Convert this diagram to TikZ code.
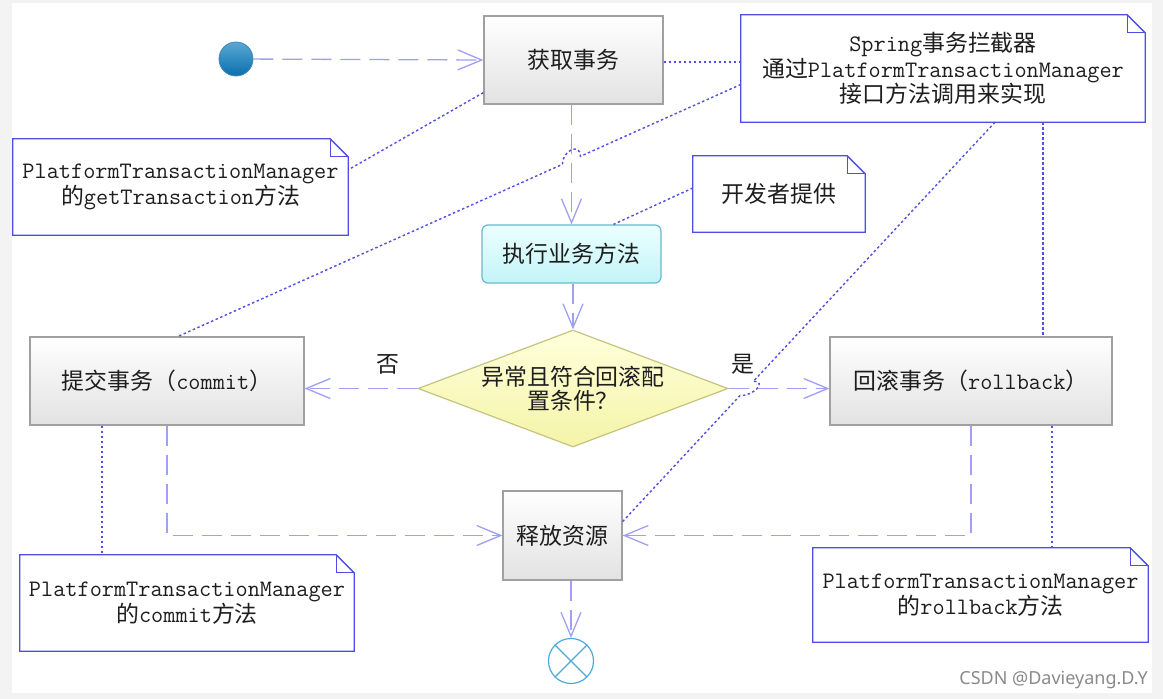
\documentclass[tikz,border=0pt]{standalone}
\usepackage{fontspec}
\newfontfamily\cjkf{Noto Sans CJK SC}[Scale=0.97]
\newfontfamily\wmf{Noto Sans}
\usetikzlibrary{arrows.meta,calc,shapes.geometric}
\newcommand\zh[1]{{\cjkf #1}}
\definecolor{bgc}{HTML}{F3F3F3}
\definecolor{txtc}{HTML}{1E1E1E}
\definecolor{boxc}{HTML}{A0A0A0}
\definecolor{boxf}{HTML}{E2E2E2}
\definecolor{notec}{HTML}{4E4EE2}
\definecolor{flowc}{HTML}{A0A0F2}
\definecolor{linkc}{HTML}{5050E4}
\definecolor{execc}{HTML}{6AB8CC}
\definecolor{execfa}{HTML}{ECFFFF}
\definecolor{execfb}{HTML}{C2F4F8}
\definecolor{diac}{HTML}{C4C47E}
\definecolor{diafa}{HTML}{FFFFDC}
\definecolor{diafb}{HTML}{F4F4A8}
\definecolor{startl}{HTML}{5AA8D4}
\definecolor{startd}{HTML}{0A6EAC}
\definecolor{startb}{HTML}{3A8AB8}
\definecolor{endc}{HTML}{4AAAD8}
\definecolor{wmc}{HTML}{8A8A8A}
\newcommand\dogear[1]{%
  \draw[noteline] (#1.north west) -- ($(#1.north east)+(-18,0)$) -- ($(#1.north east)+(0,18)$) -- (#1.south east) -- (#1.south west) -- cycle;
  \draw[noteline] ($(#1.north east)+(-18,0)$) -- ($(#1.north east)+(-18,18)$) -- ($(#1.north east)+(0,18)$);}
\begin{document}
\begin{tikzpicture}[x=1pt,y=-1pt,
  txt/.style={font=\fontsize{23.6}{23.5}\selectfont\ttfamily, text=txtc, align=center, inner sep=0pt},
  box/.style={txt, rectangle, draw=boxc, line width=1.2pt, top color=white, bottom color=boxf},
  notenode/.style={txt, rectangle},
  noteline/.style={draw=notec, line width=1.3pt, line join=miter},
  dia/.style={diamond, draw=diac, line width=1.2pt, top color=diafa, bottom color=diafb, minimum width=310pt, minimum height=117pt, inner sep=0pt},
  flow/.style={draw=flowc, line width=1.3pt, dash pattern=on 20pt off 9pt, -{Straight Barb[length=24pt,width=20pt]}},
  link/.style={draw=linkc, line width=1.4pt, dash pattern=on 2.5pt off 2.5pt},
]
\fill[bgc] (0,0) rectangle (1163,699);
\fill[white] (12,3) rectangle (1152,693);

% nodes
\node[circle, minimum size=34pt, inner sep=0pt, draw=startb, line width=0.8pt, top color=startl, bottom color=startd] (start) at (236,59) {};
\node[box, minimum width=179pt, minimum height=88pt] (get) at (573.5,60) {\zh{获取事务}};
\node[notenode, minimum width=404pt, minimum height=107pt] (spring) at (943,68.5) {Spring\zh{事务拦截器}\\\zh{通过}PlatformTransactionManager\\\zh{接口方法调用来实现}};
\node[notenode, minimum width=335pt, minimum height=96pt] (gtn) at (180.5,187) {PlatformTransactionManager\\\zh{的}getTransaction\zh{方法}};
\node[notenode, minimum width=172pt, minimum height=76pt] (dev) at (779,194) {\zh{开发者提供}};
\node[txt, rectangle, rounded corners=6pt, draw=execc, line width=1.2pt, top color=execfa, bottom color=execfb, minimum width=179pt, minimum height=58pt] (exec) at (571.5,254) {\zh{执行业务方法}};
\node[box, minimum width=274pt, minimum height=88pt] (commit) at (167,381) {\zh{提交事务（}commit\zh{）}};
\node[dia] (dec) at (573,388.5) {};
\node[txt] (dect) at (dec.center) {\zh{异常且符合回滚配}\\\zh{置条件？}};
\node[box, minimum width=282pt, minimum height=88pt] (rb) at (971,381) {\zh{回滚事务（}rollback\zh{）}};
\node[box, minimum width=119pt, minimum height=89pt] (rel) at (562.5,535.5) {\zh{释放资源}};
\node[circle, minimum size=45pt, inner sep=0pt, draw=endc, line width=1.2pt, fill=white] (end) at (571,661) {};
\draw[endc, line width=1.2pt] (end.north west) -- (end.south east) (end.north east) -- (end.south west);
\node[notenode, minimum width=334pt, minimum height=96pt] (cn) at (187,603) {PlatformTransactionManager\\\zh{的}commit\zh{方法}};
\node[notenode, minimum width=335pt, minimum height=94pt] (rn) at (980.5,595) {PlatformTransactionManager\\\zh{的}rollback\zh{方法}};
\node[txt] (no) at (388,364) {\zh{否}};
\node[txt] (yes) at (743,364) {\zh{是}};
\node[anchor=east, inner sep=0pt, font=\wmf\fontsize{18}{18}\selectfont, text=wmc] (wm) at (1148,680) {CSDN @Davieyang.D.Y};

\dogear{spring}
\dogear{gtn}
\dogear{dev}
\dogear{cn}
\dogear{rn}

% flow connectors
\draw[flow] (start) -- (get.west);
\draw[flow] (exec.north |- get.south) -- (exec.north);
\draw[flow] (dec.north |- exec.south) -- (dec.north);
\draw[flow] (dec.west) -- (commit.east |- dec.west);
\draw[flow] (dec.east) -- (rb.west |- dec.east);
\draw[flow] (commit.south) |- (rel.west);
\draw[flow] (rb.south) |- (rel.east);
\draw[flow] (end.north |- rel.south) -- (end.north);

% note links
\draw[link] ($(get.east)+(0,2)$) coordinate (ge) -- (spring.west |- ge);
\draw[link] ($(get.south west)+(0,-12)$) -- ($(gtn.north east)+(0,31)$);
\coordinate (c1) at ($(spring.west)+(0,16)$);
\coordinate (c2) at ($(commit.north)+(11,0)$);
\draw[link] (c1) -- ($(c1)!0.285!(c2)$) .. controls +(0,-14) and +(0,-14) .. ($(c1)!0.317!(c2)$) -- (c2);
\draw[link] ($(dev.west)+(0,-6)$) -- ($(exec.north)+(42,0)$);
\coordinate (e1) at ($(spring.south)+(52,0)$);
\coordinate (e2) at ($(rel.east)+(0,-14)$);
\draw[link] (e1) -- ($(e1)!0.649!(e2)$) .. controls +(14,0) and +(14,0) .. ($(e1)!0.685!(e2)$) -- (e2);
\draw[link] ($(spring.south)+(100,0)$) coordinate (f1) -- (rb.north -| f1);
\draw[link] ($(commit.south)+(-65,0)$) coordinate (g1) -- (cn.north -| g1);
\draw[link] ($(rb.south)+(81,0)$) coordinate (h1) -- (rn.north -| h1);
\end{tikzpicture}
\end{document}
